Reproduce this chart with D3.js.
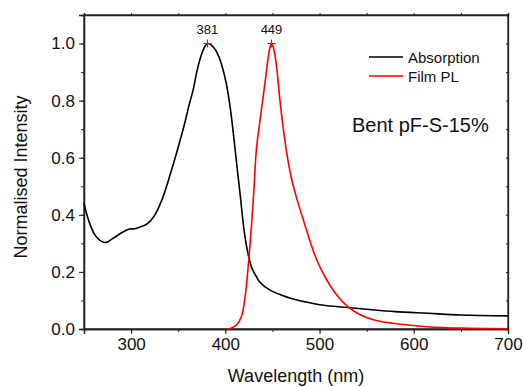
<!DOCTYPE html>
<html>
<head>
<meta charset="utf-8">
<script src="https://cdn.jsdelivr.net/npm/d3@7"></script>
<style>
  html, body { margin: 0; padding: 0; background: #fff; }
  svg { display: block; font-family: Arial, "Liberation Sans", sans-serif; }
</style>
</head>
<body>
<svg id="chart" width="523" height="387"></svg>
<script>
// Data
const absWavelength = [250, 256, 263, 272, 281, 290, 298, 304, 310, 317, 324, 333, 345, 355, 362, 366, 370, 374, 378, 381, 385, 389, 393, 397, 401, 405, 408, 412, 416, 419, 422, 425, 428, 433, 437, 447, 460, 470, 485, 500, 520, 545, 580, 615, 650, 700];
const absIntensity  = [0.44, 0.37, 0.323, 0.303, 0.318, 0.337, 0.35, 0.351, 0.358, 0.368, 0.393, 0.455, 0.58, 0.697, 0.79, 0.84, 0.905, 0.955, 0.988, 1.0, 0.995, 0.98, 0.955, 0.915, 0.86, 0.78, 0.70, 0.58, 0.463, 0.37, 0.30, 0.25, 0.215, 0.183, 0.163, 0.137, 0.118, 0.107, 0.095, 0.085, 0.078, 0.071, 0.061, 0.055, 0.049, 0.046];
const plWavelength = [400, 406, 412, 417, 421, 426, 430, 433, 436, 439, 442, 445, 447, 449, 451, 454, 458, 462, 466, 470, 476, 483, 493, 500, 508, 518, 530, 543, 560, 578, 600, 614, 650, 700];
const plIntensity  = [0, 0.003, 0.014, 0.043, 0.113, 0.288, 0.47, 0.63, 0.71, 0.785, 0.86, 0.94, 0.98, 1.0, 0.985, 0.93, 0.80, 0.69, 0.60, 0.53, 0.455, 0.38, 0.277, 0.22, 0.17, 0.12, 0.078, 0.05, 0.03, 0.02, 0.012, 0.008, 0.003, 0.001];
const peakWavelength = [381, 449];
const peakIntensity = [1.0, 1.0];
const peakLabels = ["381", "449"];
const seriesNames = ["Absorption", "Film PL"];
const seriesColors = ["#000000", "#ff0000"];
const xTicks = [300, 400, 500, 600, 700];
const yTicks = [0.0, 0.2, 0.4, 0.6, 0.8, 1.0];
const sampleName = "Bent pF-S-15%";

const svg = d3.select("#chart");
const m = {left: 84, right: 508, top: 15, bottom: 329};
const x = d3.scaleLinear().domain([250, 700]).range([m.left, m.right]);
const y = d3.scaleLinear().domain([0, 1.1]).range([m.bottom, m.top]);
const axisColor = "#222";

// Frame
svg.append("rect").attr("x", m.left).attr("y", m.top)
  .attr("width", m.right - m.left).attr("height", m.bottom - m.top)
  .attr("fill", "none").attr("stroke", axisColor).attr("stroke-width", 1.3);

// Minor ticks
const xMinor = d3.range(250, 701, 50);
const yMinor = d3.range(0, 1.101, 0.1);

svg.append("g").attr("transform", `translate(0,${m.bottom})`)
  .call(d3.axisBottom(x).tickValues(xTicks).tickSize(5).tickPadding(4).tickFormat(d3.format("d")));
svg.append("g").attr("transform", `translate(0,${m.bottom})`)
  .call(d3.axisBottom(x).tickValues(xMinor).tickSize(3).tickFormat(""));
svg.append("g").attr("transform", `translate(${m.left},0)`)
  .call(d3.axisLeft(y).tickValues(yTicks).tickSize(5).tickPadding(4).tickFormat(d3.format(".1f")));
svg.append("g").attr("transform", `translate(${m.left},0)`)
  .call(d3.axisLeft(y).tickValues(yMinor).tickSize(3).tickFormat(""));
// top / right small ticks
svg.append("g").attr("transform", `translate(0,${m.top})`)
  .call(d3.axisTop(x).tickValues(xMinor).tickSize(2).tickFormat(""));
svg.append("g").attr("transform", `translate(${m.right},0)`)
  .call(d3.axisLeft(y).tickValues(yMinor).tickSize(2).tickFormat(""));

svg.selectAll(".domain").attr("stroke", axisColor).attr("stroke-width", 1.3);
svg.selectAll(".tick line").attr("stroke", axisColor).attr("stroke-width", 1);
svg.selectAll(".tick text").attr("font-size", 17).attr("fill", "#111")
  .attr("font-family", "Arial, 'Liberation Sans', sans-serif");

// Axis titles
svg.append("text").attr("x", (m.left + m.right) / 2).attr("y", 382)
  .attr("text-anchor", "middle").attr("font-size", 18).attr("fill", "#111")
  .text("Wavelength (nm)");
svg.append("text").attr("transform", `translate(27,${(m.top + m.bottom) / 2 + 5}) rotate(-90)`)
  .attr("text-anchor", "middle").attr("font-size", 18).attr("fill", "#111")
  .text("Normalised Intensity");

// Lines
const line = d3.line().x(d => x(d[0])).y(d => y(d[1])).curve(d3.curveCatmullRom.alpha(0.5));
const absData = absWavelength.map((w, i) => [w, absIntensity[i]]);
const plData = plWavelength.map((w, i) => [w, plIntensity[i]]);
svg.append("path").datum(absData).attr("d", line)
  .attr("fill", "none").attr("stroke", seriesColors[0]).attr("stroke-width", 1.6);
svg.append("path").datum(plData).attr("d", line)
  .attr("fill", "none").attr("stroke", seriesColors[1]).attr("stroke-width", 1.6);

// Peak markers
peakWavelength.forEach((w, i) => {
  const px = x(w), py = y(peakIntensity[i]);
  svg.append("path").attr("d", `M${px-4},${py}H${px+4}M${px},${py-4}V${py+4}`)
    .attr("stroke", "#ff0000").attr("stroke-width", 1.1);
  svg.append("text").attr("x", px).attr("y", py - 10).attr("text-anchor", "middle")
    .attr("font-size", 13).attr("fill", "#111").text(peakLabels[i]);
});

// Legend
const legY = [57, 76];
seriesNames.forEach((n, i) => {
  svg.append("line").attr("x1", 369).attr("x2", 403).attr("y1", legY[i]).attr("y2", legY[i])
    .attr("stroke", seriesColors[i]).attr("stroke-width", 1.6);
  svg.append("text").attr("x", 408).attr("y", legY[i] + 5.5).attr("font-size", 15)
    .attr("fill", "#111").text(n);
});

svg.append("text").attr("x", 352).attr("y", 131.5).attr("font-size", 20)
  .attr("fill", "#111").text(sampleName);
</script>
</body>
</html>
